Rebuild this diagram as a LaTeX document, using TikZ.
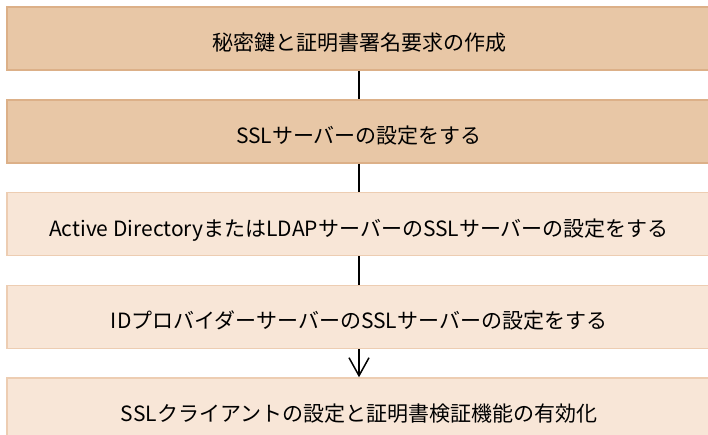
\documentclass[tikz,border=0pt]{standalone}
\usepackage{fontspec}
\setmainfont{Noto Sans CJK JP}
\usetikzlibrary{positioning,arrows.meta}

\definecolor{darkfill}{HTML}{E8C7A6}
\definecolor{darkline}{HTML}{DCB088}
\definecolor{lightfill}{HTML}{F8E6D7}
\definecolor{lightline}{HTML}{EDCDB2}

\tikzset{
  stepbox/.style={line width=1.5pt, minimum width=704pt, minimum height=63pt,
    inner sep=0pt, text height=24pt, text depth=0pt,
    font=\fontsize{21}{24}\selectfont},
  darkbox/.style={stepbox, fill=darkfill, draw=darkline},
  lightbox/.style={stepbox, fill=lightfill, draw=lightline},
  link/.style={line width=1.5pt, black}
}

\begin{document}
\begin{tikzpicture}

      % Definitions
      \def\gap{28.25pt}   % Gap between steps

      \useasboundingbox (0,0) rectangle (708pt,-434pt);
      \fill [white] (0,0) rectangle (708pt,-434pt);

      % Steps
      \node [darkbox] (key) at (359pt,-38.5pt) {秘密鍵と証明書署名要求の作成};
      \node [darkbox, below=\gap of key] (server) {SSLサーバーの設定をする};
      \node [lightbox, below=\gap of server] (ldap) {Active DirectoryまたはLDAPサーバーのSSLサーバーの設定をする};
      \node [lightbox, below=\gap of ldap] (idp) {IDプロバイダーサーバーのSSLサーバーの設定をする};
      \node [lightbox, below=\gap of idp] (client) {SSLクライアントの設定と証明書検証機能の有効化};

      % Draw commands
      \draw [link] (key) -- (server);
      \draw [link] (server) -- (ldap);
      \draw [link] (ldap) -- (idp);
      \draw [link, -{Straight Barb[length=18pt, width=20pt, line width=1.5pt]}] (idp) -- (client);

\end{tikzpicture}
\end{document}
